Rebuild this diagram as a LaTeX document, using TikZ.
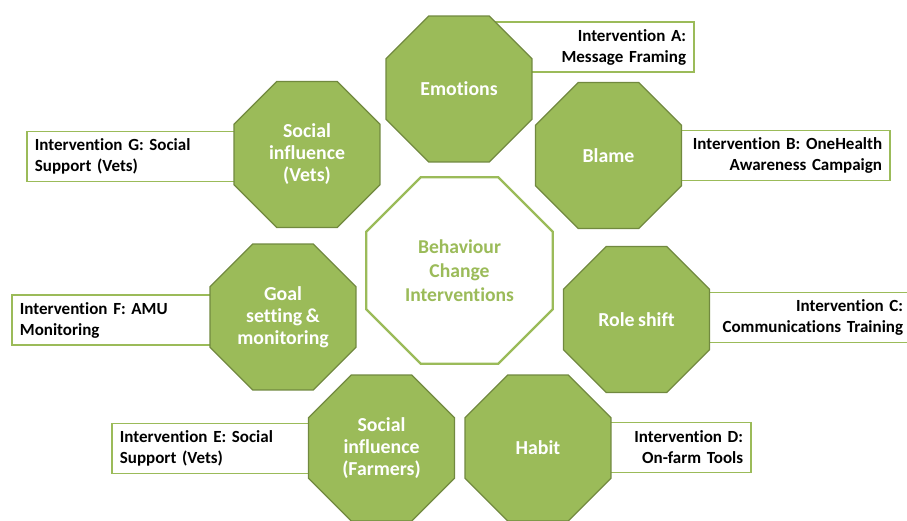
\documentclass[tikz,border=0pt]{standalone}
\usepackage{fontspec}
\setmainfont{Carlito}[WordSpace=0.8, Ligatures=NoCommon]
\usepackage{xcolor}
\usepackage{tikz}
\usetikzlibrary{shapes.geometric,positioning}

\definecolor{leafgreen}{HTML}{9BBB59}
\definecolor{leafedge}{HTML}{71893F}

\begin{document}
\begin{tikzpicture}[
    x=1pt, y=-1pt,
    octo/.style={regular polygon, regular polygon sides=8, draw=leafedge, fill=leafgreen, line width=1.2pt, inner sep=0pt, minimum size=158pt, align=center, text=white, font=\fontsize{19.8}{22}\selectfont\bfseries},
    hub/.style={octo, draw=leafgreen, fill=white, line width=2.2pt, minimum size=202pt, text=leafgreen, font=\fontsize{19.6}{24}\selectfont\bfseries},
    tagbox/.style={rectangle, draw=leafgreen, fill=white, line width=1.8pt, inner xsep=8pt, inner ysep=3pt, minimum height=50pt, text=black, font=\fontsize{17}{21}\selectfont\bfseries},
    tagleft/.style={tagbox, anchor=west, align=left},
    tagright/.style={tagbox, anchor=east, align=right}
]
    \useasboundingbox (0,0) rectangle (907,521);
    \clip (0,0) rectangle (907,521);
    \fill [white] (0,0) rectangle (907,521);

    % intervention boxes, tucked under the octagons
    \node [tagright, text width=220pt] (tagA) at (695,47) {Intervention A:\\Message Framing};
    \node [tagright, text width=267pt] (tagB) at (891,155.5) {Intervention B: OneHealth\\Awareness Campaign};
    \node [tagright, text width=262pt] (tagC) at (912,317.5) {Intervention C:\\Communications Training};
    \node [tagright, text width=198pt] (tagD) at (752,447.5) {Intervention D:\\On-farm Tools};
    \node [tagleft, text width=254pt] (tagE) at (111,448.5) {Intervention E: Social\\Support (Vets)};
    \node [tagleft, text width=256pt] (tagF) at (11,320) {Intervention F: AMU\\Monitoring};
    \node [tagleft, text width=265pt] (tagG) at (26,156.5) {Intervention G: Social\\Support (Vets)};

    % determinants around the centre
    \node [octo] (emotions) at (459,89) {Emotions};
    \node [octo] (blame) at (608.5,155.5) {Blame};
    \node [octo] (roleshift) at (636.5,319.5) {Role shift};
    \node [octo] (habit) at (538,448) {Habit};
    \node [octo] (farmers) at (381.5,448) {Social\\influence\\(Farmers)};
    \node [octo] (goals) at (283,317) {Goal\\setting \&\\monitoring};
    \node [octo] (vets) at (307,154.5) {Social\\influence\\(Vets)};

    \node [hub] (bci) at (459.5,270.5) {Behaviour\\Change\\Interventions};
\end{tikzpicture}
\end{document}
